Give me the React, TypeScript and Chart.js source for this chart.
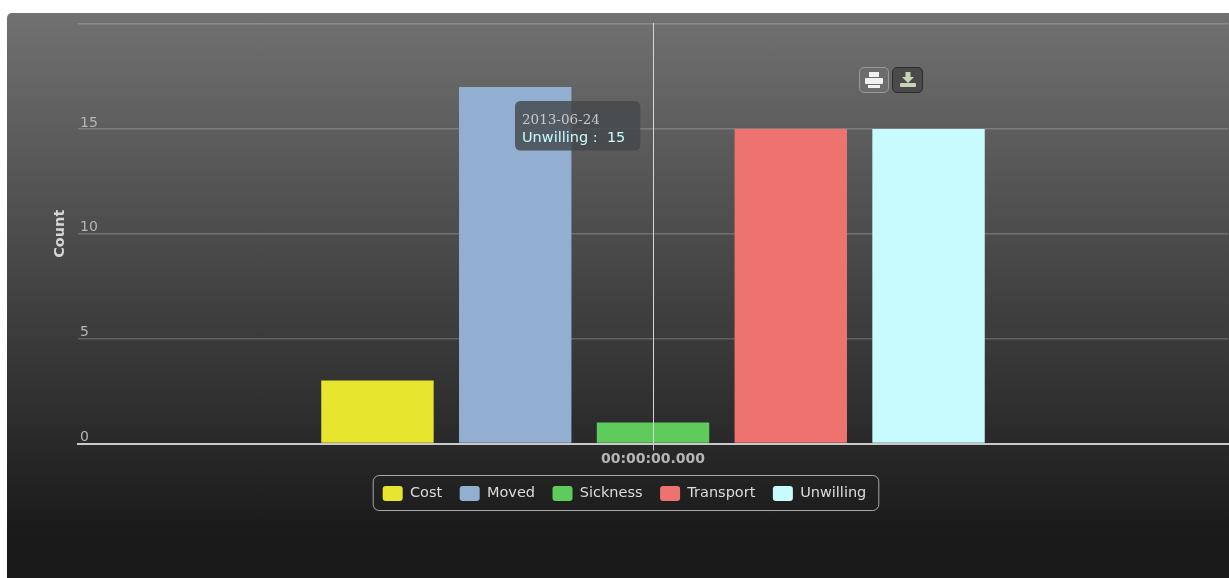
import React, { useEffect, useRef } from "react";
import { Chart, registerables, Tooltip } from "chart.js";

Chart.register(...registerables);

const categories = ["00:00:00.000"];
const seriesNames = ["Cost", "Moved", "Sickness", "Transport", "Unwilling"];
const seriesValues = [3, 17, 1, 15, 15];
const seriesColors = ["#e8e52f", "#92aed0", "#5fcb5c", "#ee7370", "#c8fbfd"];
const tooltipDate = "2013-06-24";
const highlightedSeries = 4;
const yAxisTitle = "Count";
const yMax = 20;
const yStep = 5;

const SANS = "'DejaVu Sans', sans-serif";

// Keeps the readout parked in the upper middle of the plot.
(Tooltip.positioners as any).parked = function () {
  return { x: 514, y: 86 };
};

// Vertical crosshair through the category, under the tooltip.
const crosshair = {
  id: "crosshair",
  afterDatasetsDraw(chart: any) {
    const { ctx, chartArea, scales } = chart;
    const x = Math.round(scales.x.getPixelForValue(0)) + 0.5;
    ctx.save();
    ctx.strokeStyle = "#d6d6d6";
    ctx.lineWidth = 1;
    ctx.beginPath();
    ctx.moveTo(x, chartArea.top - 1);
    ctx.lineTo(x, chartArea.bottom);
    ctx.stroke();
    ctx.restore();
  },
};

// Rounded outline around the legend entries.
const legendFrame = {
  id: "legendFrame",
  afterDraw(chart: any) {
    const boxes = chart.legend?.legendHitBoxes;
    if (!boxes?.length) return;
    const first = boxes[0];
    const last = boxes[boxes.length - 1];
    const left = first.left - 10;
    const right = last.left + last.width + 12;
    const top = first.top - 11;
    const bottom = first.top + first.height + 9;
    const { ctx } = chart;
    ctx.save();
    ctx.strokeStyle = "#a9a9a9";
    ctx.lineWidth = 1;
    ctx.beginPath();
    ctx.roundRect(left + 0.5, top + 0.5, right - left, bottom - top, 6);
    ctx.stroke();
    ctx.restore();
  },
};

const PrinterIcon = () => (
  <svg width="20" height="18" viewBox="0 0 20 18">
    <rect x="5" y="1" width="10" height="5" fill="#f0f0f0" />
    <rect x="1" y="7" width="18" height="6" rx="1" fill="#f0f0f0" />
    <rect x="4" y="14" width="12" height="3" fill="#f0f0f0" />
  </svg>
);

const DownloadIcon = () => (
  <svg width="20" height="18" viewBox="0 0 20 18">
    <path d="M7.5 1h5v5h3.5l-6 6-6-6h3.5z" fill="#c4d4b4" />
    <rect x="2" y="12" width="16" height="4" rx="1" fill="#c4d4b4" />
  </svg>
);

const buttonStyle: React.CSSProperties = {
  position: "absolute",
  display: "flex",
  alignItems: "center",
  justifyContent: "center",
  boxSizing: "border-box",
  borderRadius: 5,
};

export default function App() {
  const canvasRef = useRef<HTMLCanvasElement>(null);

  useEffect(() => {
    document.body.style.background = "#ffffff";
    const chart = new Chart(canvasRef.current!, {
      type: "bar",
      data: {
        labels: categories,
        datasets: seriesNames.map((name, i) => ({
          label: name,
          data: [seriesValues[i]],
          backgroundColor: seriesColors[i],
          borderWidth: 0,
          categoryPercentage: 0.599,
          barPercentage: 0.816,
        })),
      },
      options: {
        animation: false,
        responsive: false,
        events: [],
        layout: { padding: { left: 14, right: 1, top: 11, bottom: 9 } },
        scales: {
          x: {
            border: { display: true, color: "#c9c9c9", width: 2 },
            grid: {
              display: true,
              offset: false,
              drawOnChartArea: false,
              drawTicks: true,
              tickLength: 7,
              tickColor: "#c9c9c9",
              tickWidth: 1,
            },
            ticks: {
              color: "#b6b6b6",
              font: { family: SANS, size: 14, weight: "bold" },
              padding: 0,
              maxRotation: 0,
            },
            afterFit(scale: any) {
              scale.height = 25;
            },
          },
          y: {
            min: 0,
            max: yMax,
            border: { display: false },
            grid: { color: "rgba(255,255,255,0.2)", lineWidth: 1.5, drawTicks: false },
            ticks: {
              stepSize: yStep,
              mirror: true,
              padding: 2,
              labelOffset: -6,
              color: "#b5b5b5",
              font: { family: SANS, size: 14 },
              callback: (v: any) => (v === yMax ? "" : String(v)),
            },
            title: {
              display: true,
              text: yAxisTitle,
              color: "#d6d6d6",
              font: { family: SANS, size: 14.5, weight: "bold" },
              padding: { top: 31, bottom: 0 },
            },
            afterFit(scale: any) {
              scale.width = 57;
            },
          },
        },
        plugins: {
          legend: {
            position: "bottom",
            labels: {
              boxWidth: 20,
              boxHeight: 15,
              useBorderRadius: true,
              borderRadius: 3,
              padding: 17.5,
              color: "#dcdcdc",
              font: { family: SANS, size: 14.5 },
            },
          },
          tooltip: {
            enabled: true,
            position: "parked" as any,
            xAlign: "left",
            yAlign: "top",
            caretSize: 0,
            cornerRadius: 6,
            backgroundColor: "rgba(68,72,76,0.82)",
            displayColors: false,
            padding: { left: 7, right: 15, top: 11, bottom: 4 },
            titleColor: "#c8c8c8",
            titleFont: { family: "'DejaVu Serif', serif", size: 13.5, weight: "normal" },
            titleMarginBottom: 1,
            bodyColor: "#c8fbfd",
            bodyFont: { family: SANS, size: 14.5 },
            callbacks: {
              title: () => tooltipDate,
              label: (item: any) => `${item.dataset.label} :  ${item.raw}`,
            },
          },
        },
      },
      plugins: [crosshair, legendFrame],
    } as any);

    const active = [{ datasetIndex: highlightedSeries, index: 0 }];
    chart.tooltip!.setActiveElements(active, { x: 0, y: 0 });
    chart.update();

    return () => chart.destroy();
  }, []);

  return (
    <div
      style={{
        position: "fixed",
        left: 7,
        top: 13,
        width: 1222,
        height: 565,
        overflow: "hidden",
        borderTopLeftRadius: 5,
        background: "linear-gradient(180deg, #717171 0%, #1a1a1a 92%, #1a1a1a 100%)",
      }}
    >
      <canvas
        ref={canvasRef}
        width={1222}
        height={507}
        style={{ position: "absolute", left: 0, top: 0, display: "block" }}
      />
      <div
        style={{
          ...buttonStyle,
          left: 852,
          top: 54,
          width: 30,
          height: 26,
          background: "#6c6c6c",
          border: "1px solid #999999",
        }}
      >
        <PrinterIcon />
      </div>
      <div
        style={{
          ...buttonStyle,
          left: 885,
          top: 54,
          width: 31,
          height: 26,
          background: "#4a4a4a",
          border: "1px solid #2b2b2b",
        }}
      >
        <DownloadIcon />
      </div>
    </div>
  );
}
